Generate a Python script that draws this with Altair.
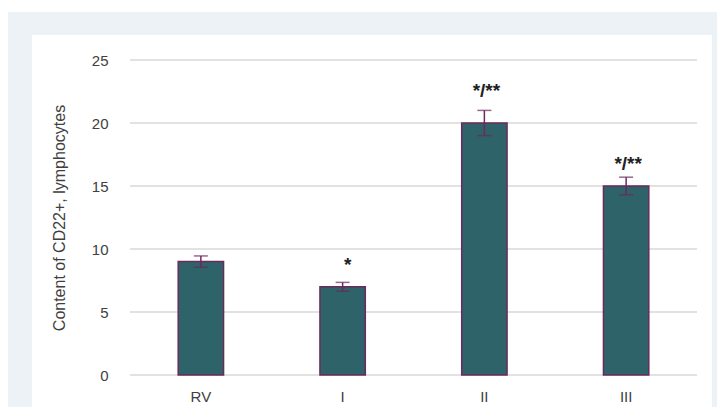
import altair as alt
import pandas as pd

groups = ["RV", "I", "II", "III"]
values = [9.0, 7.0, 20.0, 15.0]
errors = [0.45, 0.35, 1.0, 0.7]
marks = ["", "*", "*/**", "*/**"]
y_ticks = [0, 5, 10, 15, 20, 25]

df = pd.DataFrame({"group": groups, "value": values, "err": errors, "sig": marks})
df["lo"] = df["value"] - df["err"]
df["hi"] = df["value"] + df["err"]
grid_df = pd.DataFrame({"t": y_ticks})

W, H = 567, 315
PAD_L, PAD_T = 122, 52
FONT = "Liberation Sans"
ytitle = "Content of CD22+, lymphocytes"

x = alt.X("group:N", sort=groups, title=None,
          scale=alt.Scale(paddingInner=0.68, paddingOuter=0.34),
          axis=alt.Axis(labelAngle=0, domain=False, ticks=False, labelPadding=14, zindex=1,
                        labelFont=FONT, labelFontSize=15, labelColor="#404040"))
yscale = alt.Scale(domain=[0, 25], nice=False)
y_axis = alt.Axis(values=y_ticks, domain=False, ticks=False, grid=False, labelPadding=22, zindex=1,
                  labelFont=FONT, labelFontSize=15, labelColor="#404040",
                  title=ytitle, titleFont=FONT,
                  titleFontSize=16, titleFontWeight="normal", titleColor="#404040", titlePadding=24)

bg_df = pd.DataFrame({"k": [0]})
blue_bg = alt.Chart(bg_df).mark_rect(color="#edf2f6").encode(
    x=alt.value(-PAD_L - 1), x2=alt.value(W + 40), y=alt.value(-48), y2=alt.value(H + 60))
white_bg = alt.Chart(bg_df).mark_rect(color="#ffffff").encode(
    x=alt.value(-98), x2=alt.value(582), y=alt.value(-25), y2=alt.value(H + 60))

grid = alt.Chart(grid_df).mark_rule(color="#d9d9d9", strokeWidth=1.5).encode(
    y=alt.Y("t:Q", scale=yscale, axis=y_axis, title=ytitle), x=alt.value(0), x2=alt.value(W))

bars = alt.Chart(df).mark_bar(color="#2e6369", stroke="#6b2a5e", strokeWidth=1.5).encode(
    x=x,
    y=alt.Y("value:Q", scale=yscale, title=ytitle))

err = alt.Chart(df).mark_errorbar(color="#6b2a5e", ticks=alt.MarkConfig(size=14, color="#6b2a5e"),
                                  thickness=1.5).encode(
    x=alt.X("group:N", sort=groups),
    y=alt.Y("lo:Q", title=ytitle), y2="hi:Q")


def sig_layer(grp, dx, dy):
    return alt.Chart(df).transform_filter(alt.datum.group == grp).mark_text(
        font=FONT, fontSize=19, fontWeight="bold", color="#222222",
        dx=dx, dy=dy, baseline="alphabetic").encode(
        x=alt.X("group:N", sort=groups),
        y=alt.Y("hi:Q", title=ytitle), text="sig:N")


chart = alt.layer(blue_bg, white_bg, grid, bars, err,
                  sig_layer("I", 5, -11), sig_layer("II", 2, -13), sig_layer("III", 2, -7)).properties(
    width=W, height=H,
    padding={"left": PAD_L, "top": PAD_T, "right": 20, "bottom": 32},
    autosize=alt.AutoSizeParams(type="none"),
    background="#ffffff",
).configure_view(stroke=None)

chart.save("out.html", embed_options={"renderer": "svg", "actions": False})
